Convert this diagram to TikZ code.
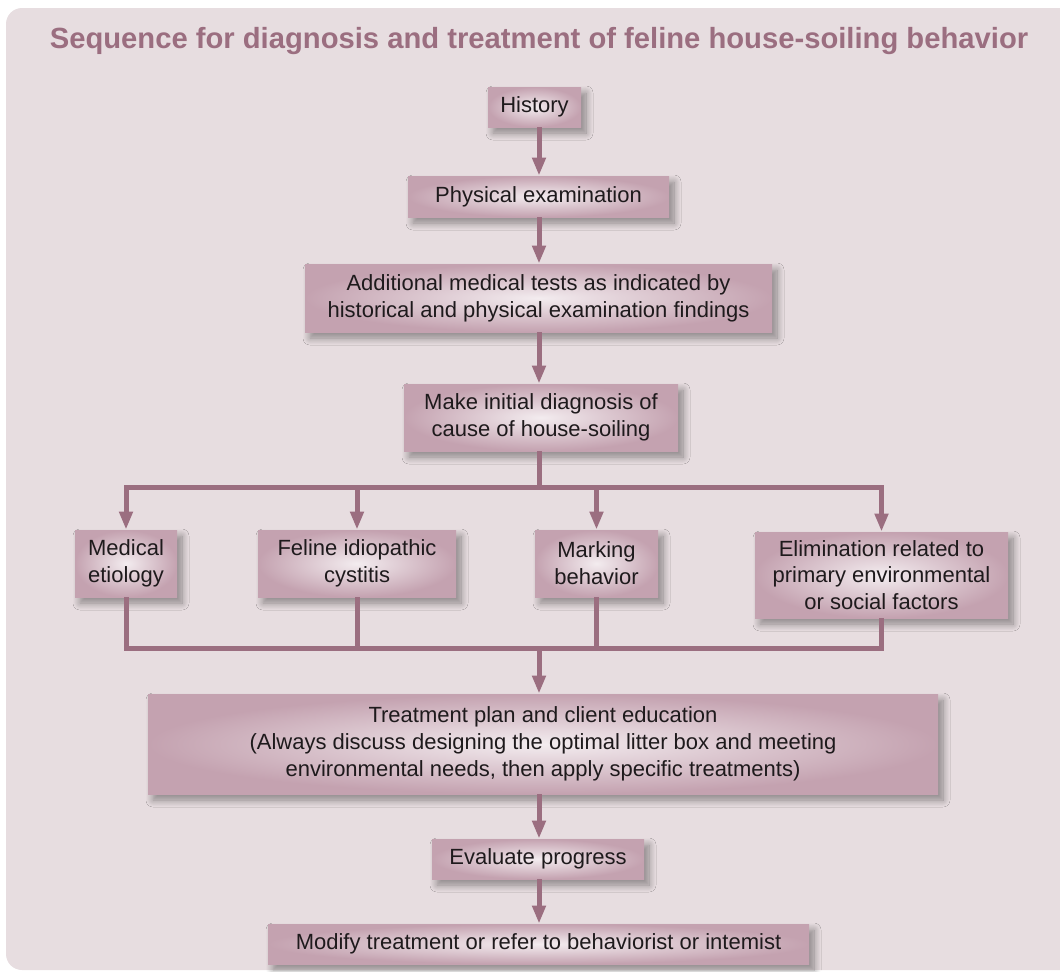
\documentclass[tikz,border=0pt]{standalone}
\usepackage{fontspec}
\setmainfont{Liberation Sans}
\usepackage{xcolor}
\usepackage{tikz}
\usetikzlibrary{arrows.meta,shadows.blur}

\definecolor{pagebg}{HTML}{E7DDE0}
\definecolor{mauve}{HTML}{9B6E80}
\definecolor{boxedge}{HTML}{C4A2B0}
\definecolor{boxmid}{HTML}{F3ECEF}
\definecolor{ink}{HTML}{1E1A1C}

\tikzset{
	stage/.style={rectangle, inner sep=0pt, align=center, text=ink,
		inner color=boxmid, outer color=boxedge,
		font=\fontsize{11}{13.4}\selectfont,
		blur shadow={shadow xshift=2.5pt, shadow yshift=-3pt, shadow opacity=40,
			shadow blur radius=3.5pt, shadow blur steps=10}},
	link/.style={draw=mauve, line width=2.5pt},
	flow/.style={link, -{Triangle[length=9pt,width=6.5pt]}}
}

\begin{document}
\begin{tikzpicture}[x=0.5pt, y=-0.5pt]
	\useasboundingbox (0,0) rectangle (1060,971);
	\fill[pagebg, rounded corners=8pt] (6,8) rectangle (1080,970);
	\node[text=mauve, font=\bfseries\fontsize{14.6}{17}\selectfont] (Title) at (539,41) {Sequence for diagnosis and treatment of feline house-soiling behavior};
	\node[stage, minimum width=46.5pt, minimum height=20pt] (History) at (534.5,107) {History};
	\node[stage, minimum width=130.5pt, minimum height=20.5pt] (Physical) at (538.5,196.5) {Physical examination};
	\node[stage, minimum width=233.5pt, minimum height=34pt] (Tests) at (538.5,298) {Additional medical tests as indicated by\\historical and physical examination findings};
	\node[stage, minimum width=137pt, minimum height=33.5pt] (Diagnosis) at (541,417.5) {Make initial diagnosis of\\cause of house-soiling};
	\node[stage, minimum width=51pt, minimum height=33.5pt] (Medical) at (126,563.5) {Medical\\etiology};
	\node[stage, minimum width=99pt, minimum height=33.5pt] (Cystitis) at (357,563.5) {Feline idiopathic\\cystitis};
	\node[stage, minimum width=61.5pt, minimum height=33.5pt] (Marking) at (596.5,563.5) {Marking\\behavior};
	\node[stage, minimum width=126.5pt, minimum height=43pt] (Elimination) at (881.5,575) {Elimination related to\\primary environmental\\or social factors};
	\node[stage, minimum width=395pt, minimum height=50pt] (Treatment) at (543,744) {Treatment plan and client education\\(Always discuss designing the optimal litter box and meeting\\environmental needs, then apply specific treatments)};
	\node[stage, minimum width=106pt, minimum height=20pt] (Evaluate) at (538,859) {Evaluate progress};
	\node[stage, minimum width=270.5pt, minimum height=20pt] (Modify) at (538.5,944) {Modify treatment or refer to behaviorist or intemist};
	\coordinate (Split) at (539,487);
	\coordinate (Join) at (539,648);
	% draw the line
	\draw[flow] (History.south -| Split)   -- (Physical.north -| Split);
	\draw[flow] (Physical.south -| Split)  -- (Tests.north -| Split);
	\draw[flow] (Tests.south -| Split)     -- (Diagnosis.north -| Split);
	\draw[link] (Diagnosis.south -| Split) -- (Split);
	\draw[flow] (Split) -| (Medical.north);
	\draw[flow] (Split) -| (Cystitis.north);
	\draw[flow] (Split) -| (Marking.north);
	\draw[flow] (Split) -| (Elimination.north);
	\draw[link] (Medical)     |- (Join);
	\draw[link] (Cystitis)    |- (Join);
	\draw[link] (Marking)     |- (Join);
	\draw[link] (Elimination) |- (Join);
	\draw[flow] (Join) -- (Treatment.north -| Join);
	\draw[flow] (Treatment.south -| Join) -- (Evaluate.north -| Join);
	\draw[flow] (Evaluate.south -| Join)  -- (Modify.north -| Join);
\end{tikzpicture}
\end{document}
